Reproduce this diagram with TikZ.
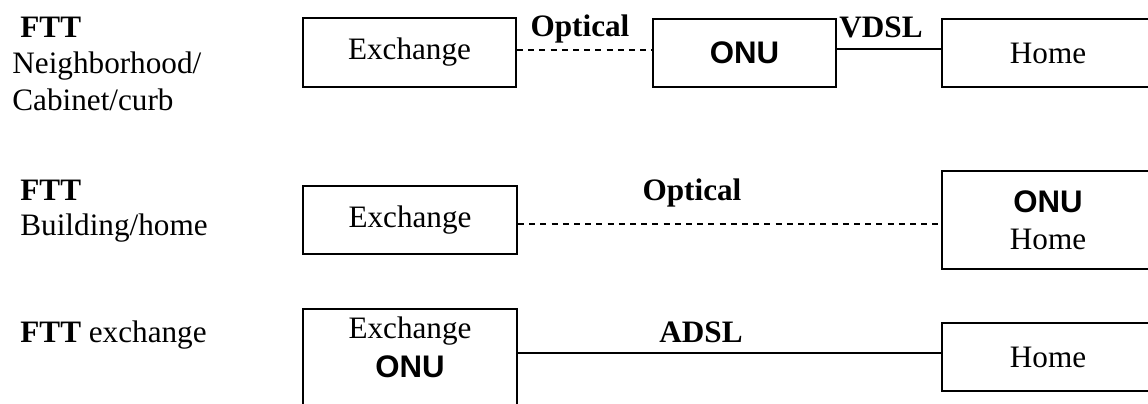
\documentclass[tikz,border=0pt]{standalone}
\usepackage{fontspec}
\setmainfont{Liberation Serif}
\newfontfamily\onufont{Liberation Sans}
\begin{document}
\begin{tikzpicture}[x=0.5pt,y=-0.5pt,
  txt/.style={inner sep=0pt, font=\fontsize{15.6}{18.5}\selectfont},
  lbl/.style={txt, anchor=base west},
  link/.style={txt, anchor=base, font=\fontsize{15.6}{18.5}\selectfont\bfseries},
  box/.style={draw, line width=1pt, inner sep=0pt, align=center,
    font=\fontsize{15.6}{18.5}\selectfont},
  wire/.style={line width=0.9pt},
  fibre/.style={line width=0.9pt, dash pattern=on 3pt off 2.6pt}]
\useasboundingbox (0,0) rectangle (1148,403);
\clip (0,0) rectangle (1148,403);

% row labels
\node[lbl] (t1a) at (20,37) {\textbf{FTT}};
\node[lbl] (t1b) at (12,73) {Neighborhood/};
\node[lbl] (t1c) at (12,110) {Cabinet/curb};
\node[lbl] (t2a) at (20,200) {\textbf{FTT}};
\node[lbl] (t2b) at (20,235) {Building/home};
\node[lbl] (t3a) at (20,342) {\textbf{FTT} exchange};

% fibre to the neighborhood / cabinet / curb
\node[box, minimum width=106.5pt, minimum height=34.5pt] (ex1) at (409.5,52.5) {Exchange};
\node[box, minimum width=91.5pt, minimum height=34pt] (onu1) at (744.5,53) {{\onufont\bfseries ONU}};
\node[box, minimum width=106pt, minimum height=34pt] (home1) at (1048,53) {Home};
\draw[fibre] ([yshift=1.2pt]ex1.east) -- ([yshift=1.2pt]ex1.east -| onu1.west);
\draw[wire] ([yshift=2pt]onu1.east) -- ([yshift=2pt]onu1.east -| home1.west);
\node[link] (op1) at (580,36) {Optical};
\node[link] (vd1) at (881,37) {VDSL};

% fibre to the building / home
\node[box, minimum width=107pt, minimum height=34pt] (ex2) at (410,220) {Exchange};
\node[box, minimum width=106pt, minimum height=49pt] (home2) at (1048,220) {{\onufont\bfseries ONU}\\Home};
\draw[fibre] ([yshift=-2pt]ex2.east) -- ([yshift=-2pt]ex2.east -| home2.west);
\node[link] (op2) at (692,200) {Optical};

% fibre to the exchange
\node[box, minimum width=107pt, minimum height=60pt, anchor=north] (ex3) at (410,308) {};
\node[txt, align=center, anchor=base, font=\fontsize{15.6}{19.5}\selectfont] (ex3t) at (410,377) {Exchange\\{\onufont\bfseries ONU}};
\node[box, minimum width=106pt, minimum height=34pt] (home3) at (1048,357) {Home};
\draw[wire] ([yshift=2pt]home3.west) -- ([yshift=2pt]home3.west -| ex3.east);
\node[link] (ad3) at (701,342) {ADSL};
\end{tikzpicture}
\end{document}
